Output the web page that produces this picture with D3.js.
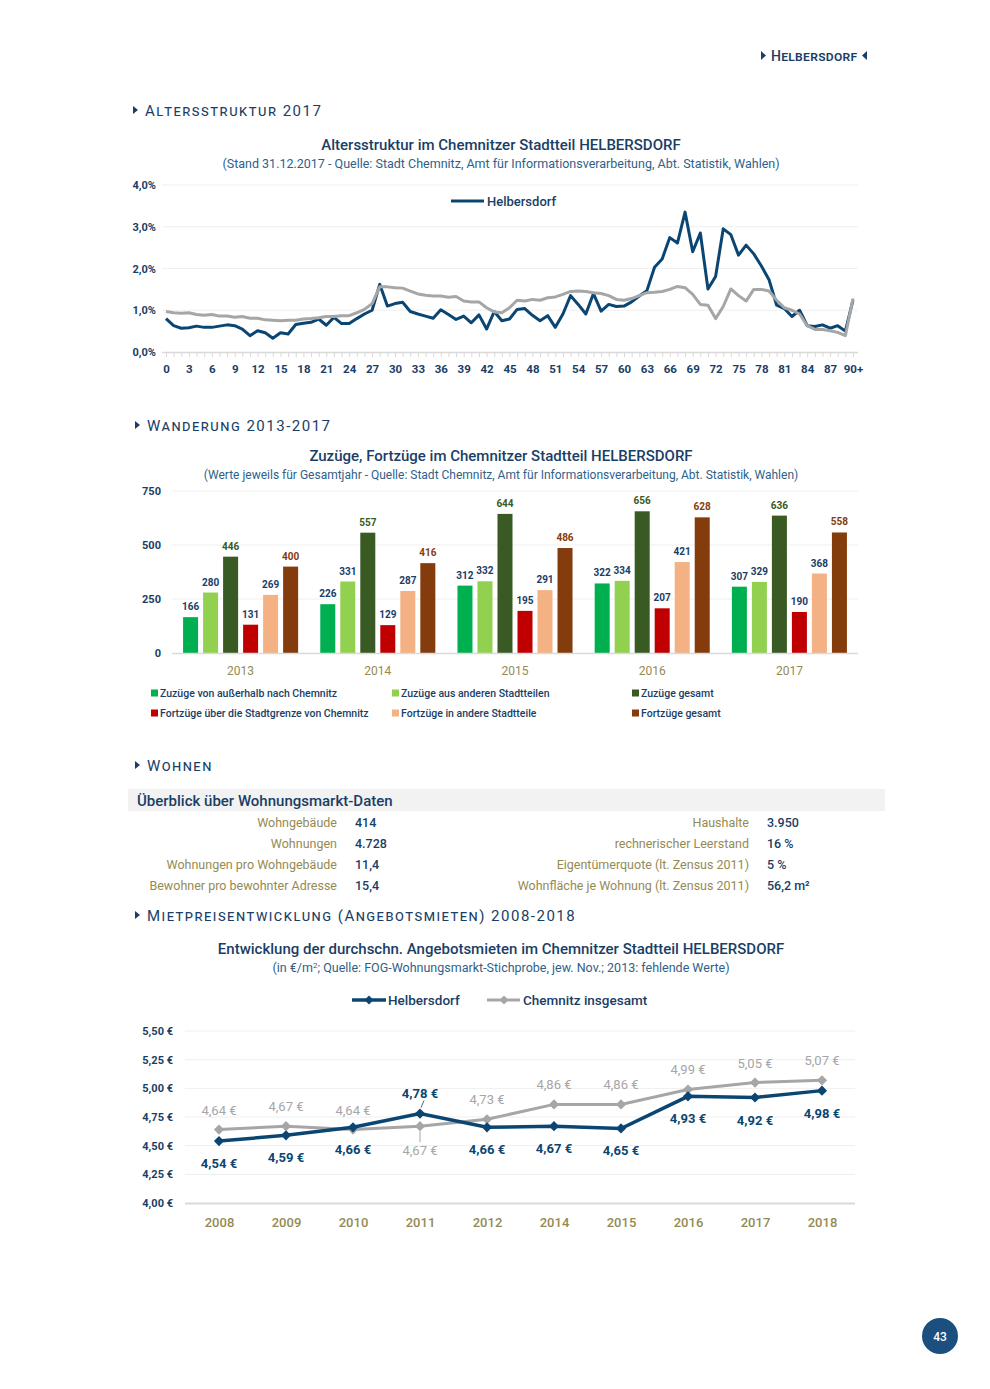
<!DOCTYPE html>
<html>
<head>
<meta charset="utf-8">
<script src="https://cdn.jsdelivr.net/npm/d3@7"></script>
<style>
  body { margin: 0; background: #fff; }
  text { font-family: Roboto, "Noto Sans", sans-serif; }
</style>
</head>
<body>
<div id="page"></div>
<script>
// ---- data: age structure 2017 (share of population per age, %)
var ageLabels = d3.range(0, 90).map(String).concat(["90+"]);
var helbersdorfAge = [0.80,0.63,0.57,0.58,0.62,0.59,0.59,0.62,0.65,0.63,
  0.55,0.39,0.51,0.46,0.33,0.46,0.43,0.66,0.69,0.71,
  0.79,0.64,0.83,0.68,0.68,0.80,0.91,1.00,1.62,1.10,
  1.16,1.19,0.97,0.91,0.86,0.81,1.01,0.90,0.78,0.86,
  0.70,0.89,0.55,0.97,0.75,0.79,1.02,1.04,0.88,0.75,
  0.87,0.59,0.91,1.35,1.14,0.91,1.40,0.98,1.14,1.09,
  1.10,1.20,1.34,1.47,2.03,2.23,2.74,2.61,3.35,2.40,
  2.85,1.51,1.81,2.95,2.81,2.32,2.56,2.35,2.06,1.73,
  1.12,1.04,0.85,1.00,0.63,0.61,0.65,0.57,0.63,0.50,1.24];
var chemnitzAge = [0.97,0.94,0.93,0.94,0.90,0.88,0.90,0.86,0.86,0.83,
  0.85,0.81,0.81,0.77,0.76,0.75,0.76,0.76,0.79,0.80,
  0.82,0.85,0.85,0.87,0.87,0.94,1.02,1.16,1.56,1.56,
  1.54,1.53,1.46,1.39,1.36,1.34,1.34,1.31,1.33,1.22,
  1.20,1.20,1.06,0.96,0.94,1.06,1.24,1.22,1.26,1.24,
  1.30,1.32,1.38,1.45,1.46,1.45,1.42,1.40,1.35,1.26,
  1.24,1.28,1.35,1.42,1.43,1.45,1.50,1.57,1.54,1.38,
  1.14,1.12,0.80,1.09,1.51,1.35,1.22,1.50,1.50,1.46,
  1.24,1.06,1.00,0.91,0.63,0.54,0.54,0.51,0.47,0.39,1.28];
var ageTicks = [0, 1, 2, 3, 4];

// ---- data: migration 2013-2017
var years = ["2013", "2014", "2015", "2016", "2017"];
var seriesNames = ["Zuzüge von außerhalb nach Chemnitz", "Zuzüge aus anderen Stadtteilen", "Zuzüge gesamt",
  "Fortzüge über die Stadtgrenze von Chemnitz", "Fortzüge in andere Stadtteile", "Fortzüge gesamt"];
var zuzAussen = [166, 226, 312, 322, 307];
var zuzStadtteile = [280, 331, 332, 334, 329];
var zuzGesamt = [446, 557, 644, 656, 636];
var fortAussen = [131, 129, 195, 207, 190];
var fortStadtteile = [269, 287, 291, 421, 368];
var fortGesamt = [400, 416, 486, 628, 558];
var barTicks = [0, 250, 500, 750];

// ---- data: housing overview
var tableLeft = [["Wohngebäude", "414"], ["Wohnungen", "4.728"], ["Wohnungen pro Wohngebäude", "11,4"], ["Bewohner pro bewohnter Adresse", "15,4"]];
var tableRight = [["Haushalte", "3.950"], ["rechnerischer Leerstand", "16 %"], ["Eigentümerquote (lt. Zensus 2011)", "5 %"], ["Wohnfläche je Wohnung (lt. Zensus 2011)", "56,2 m²"]];

// ---- data: rents
var rentYears = ["2008", "2009", "2010", "2011", "2012", "2014", "2015", "2016", "2017", "2018"];
var rentHelbersdorf = [4.54, 4.59, 4.66, 4.78, 4.66, 4.67, 4.65, 4.93, 4.92, 4.98];
var rentChemnitz = [4.64, 4.67, 4.64, 4.67, 4.73, 4.86, 4.86, 4.99, 5.05, 5.07];
var rentTicks = [4.00, 4.25, 4.50, 4.75, 5.00, 5.25, 5.50];

var navy = "#1a3e66";
var lineBlue = "#0b4673";
var olive = "#948a54";
var grayLine = "#a6a6a6";
var gridColor = "#efefef";
var axisColor = "#d9d9d9";

var svg = d3.select("#page").append("svg")
  .attr("width", 990)
  .attr("height", 1389);

function fmt(v, digits) {
  return v.toFixed(digits).replace(".", ",");
}

// section headings
function heading(x, y, txt) {
  svg.append("path")
    .attr("d", `M${x},${y - 5} L${x + 5},${y - 1} L${x},${y + 3} Z`)
    .attr("fill", navy);
  svg.append("text")
    .attr("x", x + 12)
    .attr("y", y + 5)
    .attr("fill", navy)
    .style("font-size", "15px")
    .style("font-variant", "small-caps")
    .style("letter-spacing", "1.5px")
    .text(txt);
}

// top right header
svg.append("path").attr("d", "M761,51 L766,55.5 L761,60 Z").attr("fill", navy);
svg.append("path").attr("d", "M867,51 L862,55.5 L867,60 Z").attr("fill", navy);
svg.append("text")
  .attr("x", 771).attr("y", 61)
  .attr("fill", navy)
  .style("font-size", "14px")
  .style("font-weight", "500")
  .style("font-variant", "small-caps")
  .style("letter-spacing", "0.3px")
  .text("Helbersdorf");

function chartTitle(y, title, sub, subSize) {
  svg.append("text")
    .attr("x", 501).attr("y", y)
    .attr("text-anchor", "middle")
    .attr("fill", navy)
    .style("font-size", "15px")
    .style("font-weight", "500")
    .text(title);
  svg.append("text")
    .attr("x", 501).attr("y", y + 18)
    .attr("text-anchor", "middle")
    .attr("fill", "#2f5f8a")
    .style("font-size", subSize)
    .html(sub);
}

// ==============================
// Altersstruktur
// ==============================
heading(133, 111, "Altersstruktur 2017");
chartTitle(149.5, "Altersstruktur im Chemnitzer Stadtteil HELBERSDORF",
  "(Stand 31.12.2017 - Quelle: Stadt Chemnitz, Amt für Informationsverarbeitung, Abt. Statistik, Wahlen)", "12.5px");

var xAge = d3.scalePoint().domain(ageLabels).range([166, 853]);
var yAge = d3.scaleLinear().domain([0, 4]).range([352, 185]);

svg.append("g").selectAll("line")
  .data(ageTicks.slice(1))
  .enter().append("line")
  .attr("x1", 162).attr("x2", 858)
  .attr("y1", d => yAge(d)).attr("y2", d => yAge(d))
  .attr("stroke", gridColor);

var ageXAxis = svg.append("g")
  .attr("transform", "translate(0,352)")
  .call(d3.axisBottom(xAge).tickSize(5).tickSizeOuter(0).tickPadding(8)
    .tickFormat((d, i) => i % 3 === 0 ? d : ""));
ageXAxis.select(".domain").remove();
ageXAxis.selectAll("line").attr("stroke", axisColor);
ageXAxis.selectAll("text").attr("fill", navy).style("font-size", "11.5px").style("font-weight", "bold");
svg.append("line").attr("x1", 162).attr("x2", 858).attr("y1", 352.5).attr("y2", 352.5)
  .attr("stroke", axisColor).attr("stroke-width", 1.5);

var ageYAxis = svg.append("g")
  .attr("transform", "translate(162,0)")
  .call(d3.axisLeft(yAge).tickValues(ageTicks).tickSize(0).tickPadding(6)
    .tickFormat(d => fmt(d, 1) + "%"));
ageYAxis.select(".domain").remove();
ageYAxis.selectAll("text").attr("fill", navy).style("font-size", "11px").style("font-weight", "bold");

var ageLine = d3.line()
  .x((d, i) => xAge(ageLabels[i]))
  .y(d => yAge(d));

svg.append("path")
  .datum(helbersdorfAge)
  .attr("d", ageLine)
  .attr("fill", "none")
  .attr("stroke", lineBlue)
  .attr("stroke-width", 3)
  .attr("stroke-linejoin", "round");

svg.append("path")
  .datum(chemnitzAge)
  .attr("d", ageLine)
  .attr("fill", "none")
  .attr("stroke", grayLine)
  .attr("stroke-width", 3)
  .attr("stroke-linejoin", "round");

svg.append("line").attr("x1", 451).attr("x2", 484).attr("y1", 201).attr("y2", 201)
  .attr("stroke", lineBlue).attr("stroke-width", 3);
svg.append("text").attr("x", 487).attr("y", 205.5)
  .attr("fill", navy).style("font-size", "13px").style("font-weight", "500")
  .text("Helbersdorf");

// ==============================
// Wanderung
// ==============================
heading(135, 426, "Wanderung 2013-2017");
chartTitle(461, "Zuzüge, Fortzüge im Chemnitzer Stadtteil HELBERSDORF",
  "(Werte jeweils für Gesamtjahr - Quelle: Stadt Chemnitz, Amt für Informationsverarbeitung, Abt. Statistik, Wahlen)", "12px");

var barSeries = [zuzAussen, zuzStadtteile, zuzGesamt, fortAussen, fortStadtteile, fortGesamt];
var barColors = ["#00b050", "#92d050", "#3a5a24", "#c00000", "#f4b183", "#843c0c"];
var labelColors = [navy, navy, "#3a5a24", navy, navy, "#843c0c"];

var x0 = d3.scaleBand().domain(years).range([172, 858]).paddingInner(0.125).paddingOuter(0.0625);
var x1 = d3.scaleBand().domain(d3.range(6)).range([0, x0.bandwidth()]).paddingInner(0.25).paddingOuter(0.125);
var yBar = d3.scaleLinear().domain([0, 750]).range([653, 491]);

svg.append("g").selectAll("line")
  .data(barTicks.slice(1))
  .enter().append("line")
  .attr("x1", 172).attr("x2", 858)
  .attr("y1", d => yBar(d)).attr("y2", d => yBar(d))
  .attr("stroke", gridColor);

var barYAxis = svg.append("g")
  .attr("transform", "translate(172,0)")
  .call(d3.axisLeft(yBar).tickValues(barTicks).tickSize(0).tickPadding(11));
barYAxis.select(".domain").remove();
barYAxis.selectAll("text").attr("fill", navy).style("font-size", "11px").style("font-weight", "bold");

var groups = svg.append("g").selectAll("g")
  .data(years)
  .enter().append("g")
  .attr("transform", d => `translate(${x0(d)},0)`);

groups.selectAll("rect")
  .data((d, yi) => barSeries.map((s, si) => ({ si: si, v: s[yi] })))
  .enter().append("rect")
  .attr("x", d => x1(d.si))
  .attr("width", x1.bandwidth())
  .attr("y", d => yBar(d.v))
  .attr("height", d => yBar(0) - yBar(d.v))
  .attr("fill", d => barColors[d.si]);

groups.selectAll("text")
  .data((d, yi) => barSeries.map((s, si) => ({ si: si, v: s[yi] })))
  .enter().append("text")
  .attr("x", d => x1(d.si) + x1.bandwidth() / 2)
  .attr("y", d => yBar(d.v) - 7)
  .attr("text-anchor", "middle")
  .attr("fill", d => labelColors[d.si])
  .style("font-size", "10px")
  .style("font-weight", "bold")
  .text(d => d.v);

svg.append("line").attr("x1", 172).attr("x2", 858).attr("y1", 653.5).attr("y2", 653.5)
  .attr("stroke", axisColor).attr("stroke-width", 1.5);

var barXAxis = svg.append("g")
  .attr("transform", "translate(0,653)")
  .call(d3.axisBottom(x0).tickSize(0).tickPadding(13));
barXAxis.select(".domain").remove();
barXAxis.selectAll("text").attr("fill", olive).style("font-size", "12px");

var legendX = [151, 392, 632];
var legend = svg.append("g").selectAll("g")
  .data(seriesNames)
  .enter().append("g")
  .attr("transform", (d, i) => `translate(${legendX[i % 3]},${693 + Math.floor(i / 3) * 20})`);
legend.append("rect")
  .attr("x", 0).attr("y", -3.5).attr("width", 7).attr("height", 7)
  .attr("fill", (d, i) => barColors[i]);
legend.append("text")
  .attr("x", 9).attr("y", 4)
  .attr("fill", navy)
  .style("font-size", "10.5px")
  .style("font-weight", "500")
  .text(d => d);

// ==============================
// Wohnen
// ==============================
heading(135, 766, "Wohnen");

svg.append("rect").attr("x", 128).attr("y", 789).attr("width", 757).attr("height", 22).attr("fill", "#f2f2f2");
svg.append("text").attr("x", 137).attr("y", 805.5)
  .attr("fill", navy).style("font-size", "15px").style("font-weight", "500")
  .text("Überblick über Wohnungsmarkt-Daten");

function tableCol(rows, labelX, valueX) {
  var g = svg.append("g").selectAll("g")
    .data(rows)
    .enter().append("g")
    .attr("transform", (d, i) => `translate(0,${826.5 + i * 21})`);
  g.append("text").attr("x", labelX).attr("text-anchor", "end")
    .attr("fill", olive).style("font-size", "12.5px")
    .text(d => d[0]);
  g.append("text").attr("x", valueX)
    .attr("fill", navy).style("font-size", "12.5px").style("font-weight", "500")
    .text(d => d[1]);
}
tableCol(tableLeft, 337, 355);
tableCol(tableRight, 749, 767);

// ==============================
// Mietpreise
// ==============================
heading(135, 916, "Mietpreisentwicklung (Angebotsmieten) 2008-2018");
chartTitle(953.5, "Entwicklung der durchschn. Angebotsmieten im Chemnitzer Stadtteil HELBERSDORF",
  "(in €/m<tspan dy='-4' style='font-size:8px'>2</tspan><tspan dy='4'>; Quelle: FOG-Wohnungsmarkt-Stichprobe, jew. Nov.; 2013: fehlende Werte)</tspan>", "12.5px");

var xRent = d3.scalePoint().domain(rentYears).range([185.5, 855.5]).padding(0.5);
var yRent = d3.scaleLinear().domain([4, 5.5]).range([1203, 1031]);

svg.append("g").selectAll("line")
  .data(rentTicks.slice(1))
  .enter().append("line")
  .attr("x1", 185).attr("x2", 855)
  .attr("y1", d => yRent(d)).attr("y2", d => yRent(d))
  .attr("stroke", gridColor);

svg.append("line").attr("x1", 185).attr("x2", 855).attr("y1", 1203.5).attr("y2", 1203.5)
  .attr("stroke", axisColor).attr("stroke-width", 2);

var rentYAxis = svg.append("g")
  .attr("transform", "translate(185,0)")
  .call(d3.axisLeft(yRent).tickValues(rentTicks).tickSize(0).tickPadding(12)
    .tickFormat(d => fmt(d, 2) + " €"));
rentYAxis.select(".domain").remove();
rentYAxis.selectAll("text").attr("fill", navy).style("font-size", "11px").style("font-weight", "bold");

var rentXAxis = svg.append("g")
  .attr("transform", "translate(0,1203)")
  .call(d3.axisBottom(xRent).tickSize(0).tickPadding(15));
rentXAxis.select(".domain").remove();
rentXAxis.selectAll("text").attr("fill", olive).style("font-size", "13px").style("font-weight", "500");

var rentLine = d3.line()
  .x((d, i) => xRent(rentYears[i]))
  .y(d => yRent(d));

function rentSeries(values, color, width) {
  svg.append("path")
    .datum(values)
    .attr("d", rentLine)
    .attr("fill", "none")
    .attr("stroke", color)
    .attr("stroke-width", width);
  svg.append("g").selectAll("path")
    .data(values)
    .enter().append("path")
    .attr("d", d => d3.symbol().type(d3.symbolSquare).size(52)())
    .attr("transform", (d, i) => `translate(${xRent(rentYears[i])},${yRent(d)}) rotate(45)`)
    .attr("fill", color);
}
rentSeries(rentChemnitz, grayLine, 3);
rentSeries(rentHelbersdorf, lineBlue, 3.5);

// value labels: Helbersdorf above only where it clearly exceeds Chemnitz
rentYears.forEach(function(yr, i) {
  var h = rentHelbersdorf[i], c = rentChemnitz[i];
  var helbAbove = h - c > 0.05;
  var px = xRent(yr);
  svg.append("text")
    .attr("x", px).attr("y", yRent(h) + (helbAbove ? -16 : 27))
    .attr("text-anchor", "middle")
    .attr("fill", lineBlue)
    .style("font-size", "13px").style("font-weight", "bold")
    .text(fmt(h, 2) + " €");
  svg.append("text")
    .attr("x", px).attr("y", yRent(c) + (helbAbove ? 29 : -15))
    .attr("text-anchor", "middle")
    .attr("fill", grayLine)
    .style("font-size", "13px")
    .text(fmt(c, 2) + " €");
  if (helbAbove) {
    svg.append("line")
      .attr("x1", px + 1).attr("y1", yRent(h) - 6)
      .attr("x2", px + 4).attr("y2", yRent(h) - 13)
      .attr("stroke", lineBlue).attr("stroke-width", 0.8);
    svg.append("line")
      .attr("x1", px).attr("y1", yRent(c) + 5)
      .attr("x2", px).attr("y2", yRent(c) + 16)
      .attr("stroke", grayLine).attr("stroke-width", 1);
  }
});

// legend
svg.append("line").attr("x1", 352).attr("x2", 386).attr("y1", 1000).attr("y2", 1000)
  .attr("stroke", lineBlue).attr("stroke-width", 3.5);
svg.append("path").attr("d", d3.symbol().type(d3.symbolSquare).size(40)())
  .attr("transform", "translate(369,1000) rotate(45)").attr("fill", lineBlue);
svg.append("text").attr("x", 388).attr("y", 1005)
  .attr("fill", navy).style("font-size", "13.5px").style("font-weight", "500").text("Helbersdorf");
svg.append("line").attr("x1", 487).attr("x2", 520).attr("y1", 1000).attr("y2", 1000)
  .attr("stroke", grayLine).attr("stroke-width", 3);
svg.append("path").attr("d", d3.symbol().type(d3.symbolSquare).size(40)())
  .attr("transform", "translate(504,1000) rotate(45)").attr("fill", grayLine);
svg.append("text").attr("x", 523).attr("y", 1005)
  .attr("fill", navy).style("font-size", "13.5px").style("font-weight", "500").text("Chemnitz insgesamt");

// page number
svg.append("circle").attr("cx", 940).attr("cy", 1336).attr("r", 18).attr("fill", "#1b4f7f");
svg.append("text").attr("x", 940).attr("y", 1340.5).attr("text-anchor", "middle")
  .attr("fill", "#fff").style("font-size", "12px").style("font-weight", "500").text("43");
</script>
</body>
</html>
